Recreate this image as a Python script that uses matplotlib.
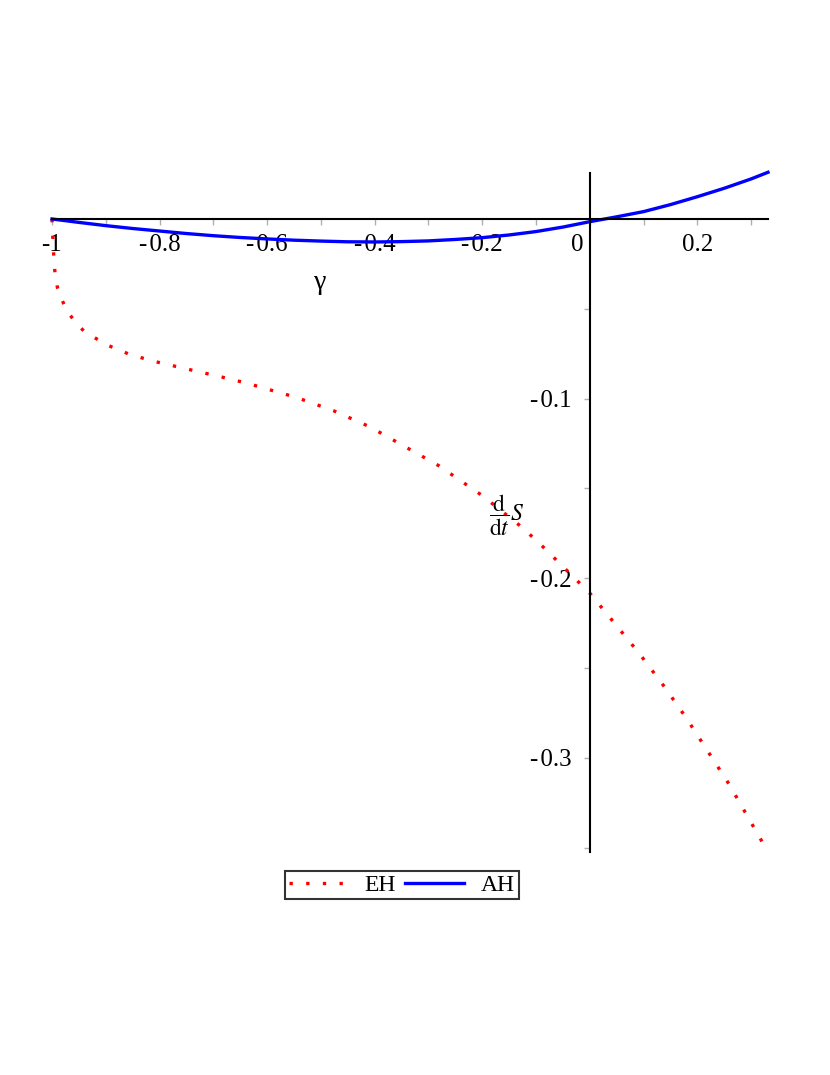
import matplotlib
matplotlib.use("Agg")
import matplotlib.pyplot as plt
from matplotlib.transforms import ScaledTranslation
from matplotlib.lines import Line2D

plt.rcParams['font.family'] = ['Liberation Serif', 'DejaVu Serif']
plt.rcParams['mathtext.fontset'] = 'stix'

# ---- data ----
eh_x = [-1.0, -0.9987, -0.9976, -0.9963, -0.9944, -0.990, -0.982, -0.972, -0.957,
        -0.941, -0.920, -0.898, -0.853, -0.805, -0.758, -0.687, -0.639, -0.545,
        -0.476, -0.409, -0.281, -0.1994, -0.1245, -0.0874, 0.0, 0.0465, 0.0929,
        0.1375, 0.1797, 0.2589, 0.3314]
eh_y = [0.0, -0.0083, -0.0154, -0.0228, -0.0302, -0.0380, -0.0447, -0.0512, -0.0573,
        -0.0623, -0.0662, -0.0701, -0.0757, -0.0796, -0.0829, -0.0878, -0.0913, -0.0994,
        -0.1068, -0.1157, -0.1373, -0.1541, -0.1720, -0.1824, -0.2083, -0.2252, -0.2422,
        -0.2599, -0.2779, -0.3146, -0.3524]

ah_x = [-1.0, -0.95, -0.9, -0.85, -0.8, -0.75, -0.7, -0.65, -0.6, -0.55, -0.5, -0.45,
        -0.4, -0.35, -0.3, -0.25, -0.2, -0.15, -0.1, -0.05, 0.0, 0.05, 0.1, 0.15,
        0.2, 0.25, 0.3, 0.3314]
ah_y = [0.0, -0.0019, -0.0037, -0.0053, -0.0067, -0.0081, -0.0093, -0.0103, -0.0111,
        -0.0118, -0.0123, -0.0127, -0.0128, -0.0126, -0.0122, -0.0114, -0.0104, -0.0089,
        -0.0070, -0.0045, -0.0015, 0.0012, 0.0041, 0.0080, 0.0124, 0.0171, 0.0223, 0.0260]

x_ticks = [-1.0, -0.9, -0.8, -0.7, -0.6, -0.5, -0.4, -0.3, -0.2, -0.1, 0.0, 0.1, 0.2, 0.3]
x_labels = ['-1', '', '-\u200a0.8', '', '-\u200a0.6', '', '-\u200a0.4', '', '-\u200a0.2', '',
            '0', '', '0.2', '']
y_ticks = [-0.35, -0.3, -0.25, -0.2, -0.15, -0.1, -0.05]
y_labels = ['', '-\u200a0.3', '', '-\u200a0.2', '', '-\u200a0.1', '']

series_names = ['EH', 'AH']

# ---- figure ----
fig = plt.figure(figsize=(8.3, 10.75), dpi=100)
ax = fig.add_axes([52/830, 1 - 852/1075, 716/830, (852 - 173)/1075])

dot_style = (0, (1, 4))
ax.plot(eh_x, eh_y, color='#ff0000', linewidth=2.4, linestyle=dot_style,
        dash_capstyle='butt', label=series_names[0], clip_on=False)
ax.plot(ah_x, ah_y, color='#0000ff', linewidth=2.4, label=series_names[1], clip_on=False)

ax.set_xlim(-1.0, 0.3314)
ax.set_ylim(-0.3524, 0.0256)

for s in ['top', 'right']:
    ax.spines[s].set_visible(False)
ax.spines['left'].set_position(('data', 0))
ax.spines['bottom'].set_position(('data', 0))
for s in ['left', 'bottom']:
    ax.spines[s].set_linewidth(1.5)
    ax.spines[s].set_color('black')

ax.set_xticks(x_ticks)
ax.set_xticklabels(x_labels)
ax.set_yticks(y_ticks)
ax.set_yticklabels(y_labels)
ax.tick_params(axis='both', direction='out', length=4, width=1, color='#b0b0b0',
               labelsize=18, labelcolor='black')
ax.tick_params(axis='x', pad=7)
ax.tick_params(axis='y', pad=9)

# shift the "0" label left of the vertical axis
for lab, t in zip(ax.get_xticklabels(), x_labels):
    if t == '0':
        lab.set_transform(lab.get_transform() + ScaledTranslation(-9/72, 0, fig.dpi_scale_trans))

ax.text(-0.502, -0.0356, 'γ', fontsize=20, ha='center', va='center')
ax.text(-0.155, -0.1647, r'$\dfrac{\mathrm{d}}{\mathrm{d}t}S$', fontsize=17, ha='center', va='center')

handles = [Line2D([], [], color='#ff0000', linewidth=2.4, linestyle=dot_style, dash_capstyle='butt'),
           Line2D([], [], color='#0000ff', linewidth=2.4)]
leg = fig.legend(handles, series_names, loc='center', bbox_to_anchor=(402/830, 1 - 885/1075),
                 ncol=2, fontsize=17, frameon=True, fancybox=False, handlelength=2.5,
                 handletextpad=0.7, columnspacing=0.4, borderpad=0.15, borderaxespad=0)
leg.get_frame().set_edgecolor('black')
leg.get_frame().set_linewidth(1.5)

fig.savefig('out.png', dpi=100, facecolor='white')
